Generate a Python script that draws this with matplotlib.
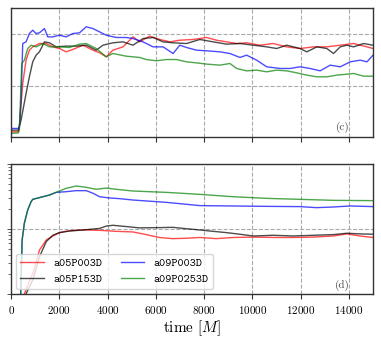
import matplotlib
matplotlib.use('Agg')
import matplotlib.pyplot as plt
import numpy as np

plt.rcParams['font.family'] = 'serif'
plt.rcParams['font.serif'] = ['cmr10']
plt.rcParams['mathtext.fontset'] = 'cm'
plt.rcParams['axes.formatter.use_mathtext'] = True

names = ['a05P003D', 'a05P153D', 'a09P003D', 'a09P0253D']
colors = ['red', 'black', 'blue', 'green']

# Top panel (c), linear scale
t_c_red = [0, 300, 345, 484, 622, 760, 899, 1176, 1453, 1730, 2007, 2284, 2561, 2977, 3392,
           3669, 3946, 4223, 4639, 5054, 5331, 5747, 6162, 6578, 6993, 7547, 8101, 8517,
           8932, 9348, 9763, 10317, 10871, 11425, 11979, 12533, 13087, 13641, 14196, 14749, 15000]
c_red = [0.061, 0.061, 0.109, 0.526, 0.750, 0.846, 0.878, 0.910, 0.910, 0.878, 0.862, 0.830,
         0.853, 0.894, 0.846, 0.821, 0.782, 0.846, 0.878, 0.974, 0.926, 0.981, 0.949, 0.926,
         0.942, 0.949, 0.968, 0.942, 0.926, 0.910, 0.917, 0.894, 0.910, 0.878, 0.862, 0.878,
         0.878, 0.894, 0.910, 0.878, 0.862]

t_c_black = [0, 300, 415, 622, 760, 899, 1038, 1176, 1384, 1592, 1869, 2284, 2700, 3115, 3530,
             3808, 4223, 4639, 5054, 5470, 5886, 6300, 6716, 7270, 7824, 8378, 8932, 9486,
             10040, 10594, 11010, 11425, 11979, 12256, 12672, 13087, 13364, 13641, 13918,
             14196, 14611, 15000]
c_black = [0.077, 0.077, 0.173, 0.429, 0.590, 0.734, 0.798, 0.830, 0.926, 0.917, 0.878, 0.885,
           0.885, 0.894, 0.846, 0.894, 0.917, 0.926, 0.894, 0.958, 0.968, 0.926, 0.917, 0.910,
           0.949, 0.926, 0.904, 0.910, 0.894, 0.878, 0.862, 0.894, 0.862, 0.830, 0.878, 0.862,
           0.814, 0.878, 0.894, 0.878, 0.910, 0.894]

t_c_blue = [0, 300, 345, 415, 484, 622, 760, 899, 1038, 1176, 1384, 1522, 1730, 2007, 2284,
            2561, 2838, 3115, 3392, 3669, 3946, 4362, 4777, 5054, 5470, 5886, 6300, 6716,
            6993, 7270, 7686, 8101, 8655, 9070, 9486, 9763, 10178, 10594, 11148, 11564, 11979,
            12394, 12810, 13226, 13641, 14057, 14473, 14749, 15000]
c_blue = [0.093, 0.093, 0.109, 0.365, 0.910, 0.926, 1.006, 1.038, 1.006, 1.013, 1.054, 0.974,
          0.974, 0.990, 0.974, 1.006, 1.013, 1.071, 1.054, 1.022, 0.990, 0.968, 0.968, 0.958,
          0.926, 0.878, 0.878, 0.814, 0.894, 0.872, 0.846, 0.840, 0.830, 0.814, 0.776, 0.798,
          0.750, 0.686, 0.670, 0.670, 0.686, 0.670, 0.647, 0.702, 0.686, 0.734, 0.750, 0.734,
          0.798]

t_c_green = [0, 300, 345, 443, 553, 691, 830, 1038, 1315, 1592, 2007, 2423, 2838, 3115, 3530,
             3946, 4223, 4777, 5331, 5608, 6024, 6439, 6855, 7270, 7686, 8101, 8655, 9070,
             9348, 9763, 10178, 10594, 11010, 11425, 11840, 12256, 12672, 13087, 13503, 13918,
             14196, 14611, 15000]
c_green = [0.045, 0.051, 0.077, 0.718, 0.750, 0.862, 0.894, 0.878, 0.910, 0.878, 0.878, 0.872,
           0.904, 0.910, 0.862, 0.782, 0.814, 0.788, 0.776, 0.756, 0.744, 0.756, 0.756, 0.734,
           0.724, 0.712, 0.702, 0.718, 0.670, 0.647, 0.654, 0.638, 0.654, 0.647, 0.628, 0.606,
           0.590, 0.590, 0.606, 0.615, 0.622, 0.596, 0.596]

# Bottom panel (d), log scale
t_d_red = [0, 500, 550, 900, 1180, 1460, 1730, 2010, 2420, 2980, 3670, 4360, 5050, 5460, 6150,
           6700, 7260, 7820, 8510, 9200, 10030, 10870, 11700, 12530, 13360, 13920, 14470, 15000]
d_red = [0.01, 0.01, 0.1, 0.208, 0.475, 0.677, 0.78, 0.88, 0.94, 0.966, 0.954, 0.92, 0.90, 0.84,
         0.74, 0.71, 0.72, 0.74, 0.71, 0.74, 0.75, 0.74, 0.74, 0.75, 0.78, 0.84, 0.78, 0.74]

t_d_black = [0, 580, 620, 900, 1180, 1460, 1730, 2010, 2420, 2980, 3670, 3950, 4220, 4770, 5320,
             6150, 6700, 7260, 7820, 8370, 8920, 9480, 10030, 10870, 11700, 12530, 13360,
             13920, 14470, 15000]
d_black = [0.01, 0.01, 0.1, 0.164, 0.375, 0.64, 0.80, 0.88, 0.93, 0.966, 1.02, 1.11, 1.14, 1.09,
           1.04, 1.05, 1.06, 1.01, 0.966, 0.92, 0.88, 0.83, 0.78, 0.80, 0.78, 0.80, 0.82, 0.86,
           0.84, 0.83]

t_d_blue = [0, 300, 400, 460, 550, 690, 830, 900, 1590, 1870, 2280, 2700, 3120, 3400, 3670,
            4080, 4500, 5050, 6440, 7820, 9200, 10590, 11970, 12660, 13360, 14050, 15000]
d_blue = [0.001, 0.01, 0.102, 0.68, 1.22, 1.96, 2.63, 2.86, 3.33, 3.66, 3.75, 3.89, 3.89, 3.54,
          3.14, 3.0, 2.93, 2.79, 2.57, 2.29, 2.26, 2.23, 2.21, 2.13, 2.18, 2.26, 2.21]

t_d_green = [0, 300, 400, 460, 550, 690, 830, 900, 1590, 2280, 2700, 3120, 3530, 3950, 4360,
             5050, 6440, 7820, 9200, 10590, 11970, 13360, 15000]
d_green = [0.001, 0.01, 0.102, 0.68, 1.22, 1.96, 2.63, 2.86, 3.33, 4.22, 4.59, 4.38, 4.08, 4.27,
           4.08, 3.84, 3.66, 3.41, 3.14, 2.96, 2.86, 2.76, 2.73]

top_t = [t_c_red, t_c_black, t_c_blue, t_c_green]
top_y = [c_red, c_black, c_blue, c_green]
bot_t = [t_d_red, t_d_black, t_d_blue, t_d_green]
bot_y = [d_red, d_black, d_blue, d_green]

fig = plt.figure(figsize=(3.81, 3.41), dpi=100)
ax1 = fig.add_axes([0.029, 0.598, 0.950, 0.378])
ax2 = fig.add_axes([0.029, 0.138, 0.950, 0.381])

for i in range(4):
    ax1.plot(top_t[i], top_y[i], color=colors[i], alpha=0.7, lw=1.0)
    ax2.plot(bot_t[i], bot_y[i], color=colors[i], alpha=0.7, lw=1.0, label=names[i])

for ax in (ax1, ax2):
    ax.set_xlim(0, 15000)
    ax.set_xticks(np.arange(0, 15000, 2000))
    ax.grid(True, color='#aaaaaa', ls='--', lw=0.8)
    for s in ax.spines.values():
        s.set_color('#333333')
        s.set_linewidth(1.0)
    ax.tick_params(axis='x', direction='out', length=3.5, width=0.8, colors='#333333',
                   labelsize=8, labelcolor='black')

ax1.set_ylim(0.01, 1.25)
ax1.set_yticks([0.5, 1.0])
ax1.tick_params(axis='y', length=0, labelleft=False)
ax1.tick_params(axis='x', labelbottom=False)

ax2.set_yscale('log')
ax2.set_ylim(0.1, 10)
ax2.tick_params(axis='y', which='both', labelleft=False, colors='#333333')
ax2.tick_params(axis='y', which='major', length=3, width=0.6)
ax2.tick_params(axis='y', which='minor', length=2, width=0.5)
ax2.grid(True, which='major', axis='y', color='#aaaaaa', ls='--', lw=0.8)

ax1.text(0.916, 0.072, '(c)', transform=ax1.transAxes, ha='center', va='center',
         fontsize=8, color='#444444')
ax2.text(0.916, 0.069, '(d)', transform=ax2.transAxes, ha='center', va='center',
         fontsize=8, color='#444444')

ax2.set_xlabel('time $[M]$', fontsize=11, labelpad=2)

leg = ax2.legend(loc='lower left', ncol=2, prop={'family': 'cmtt10', 'size': 8.4},
                 framealpha=0.8, edgecolor='#cccccc', borderaxespad=0.4,
                 columnspacing=1.6, handletextpad=0.8, labelspacing=0.35)

fig.savefig('out.png', dpi=100)
